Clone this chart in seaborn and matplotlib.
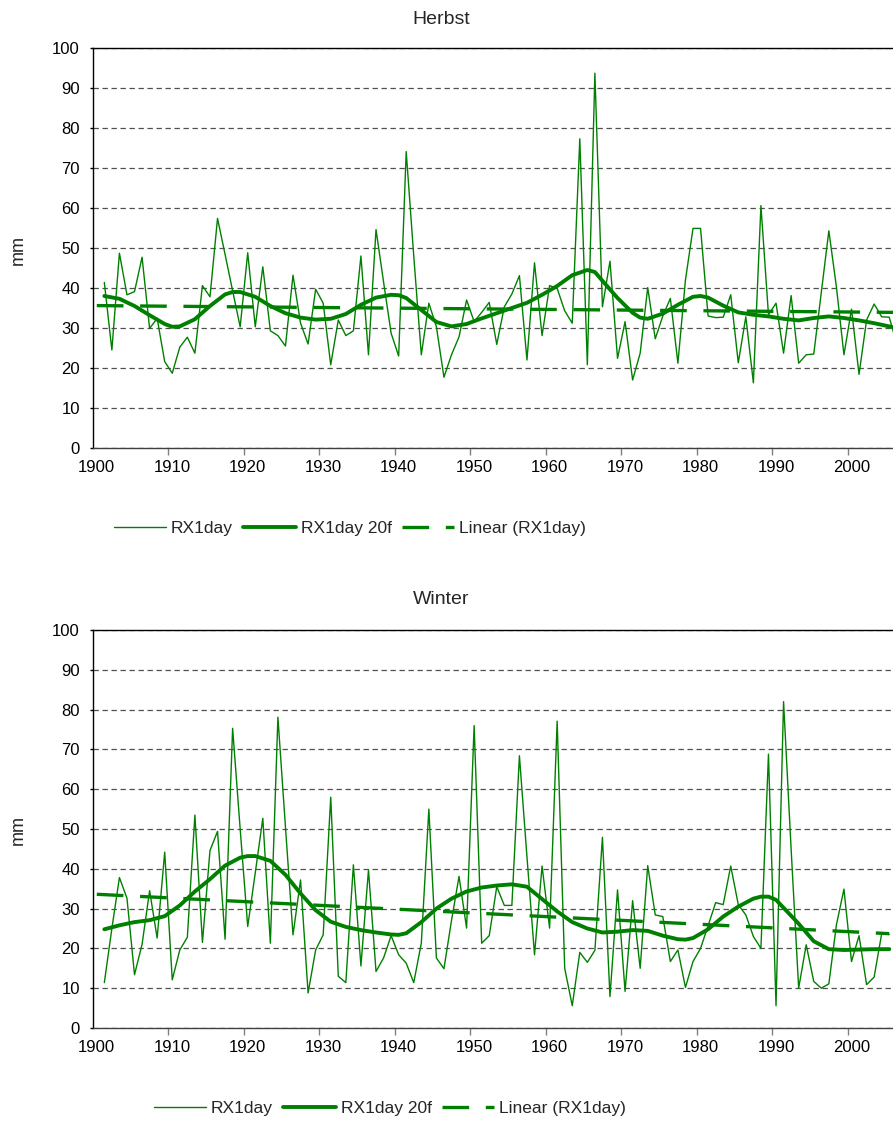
import numpy as np
import pandas as pd
import matplotlib.pyplot as plt
import seaborn as sns

# ── Data ───────────────────────────────────────────────────────────────────────

years_herbst = list(range(1901, 2007))
rx_herbst = [
    41.4, 24.5, 48.7, 38.3, 39.1, 47.7, 29.9, 32.4, 21.6, 18.7,
    25.2, 27.7, 23.7, 40.6, 37.8, 57.4, 48.4, 39.3, 30.3, 48.8,
    30.3, 45.3, 29.3, 28.1, 25.5, 43.2, 31.2, 26.0, 39.7, 36.2,
    20.8, 32.0, 28.1, 29.3, 48.0, 23.3, 54.6, 41.5, 28.7, 23.0,
    74.1, 48.0, 23.3, 36.2, 30.3, 17.7, 23.3, 27.8, 37.0, 31.6,
    33.9, 36.4, 25.9, 35.3, 38.5, 43.1, 22.0, 46.3, 28.1, 40.6,
    39.9, 34.3, 31.2, 77.3, 20.8, 93.7, 35.3, 46.7, 22.4, 31.6,
    17.0, 23.7, 40.1, 27.3, 33.0, 37.4, 21.2, 42.0, 54.9, 54.9,
    33.0, 32.6, 32.7, 38.3, 21.3, 32.8, 16.3, 60.6, 33.3, 36.2,
    23.7, 38.1, 21.2, 23.3, 23.5, 38.9, 54.3, 40.3, 23.3, 34.7,
    18.4, 32.0, 36.0, 32.8, 32.7, 26.0,
]
smooth_years_herbst = [
    1901, 1903, 1905, 1907, 1909, 1910, 1911, 1913, 1915, 1917, 1918, 1919,
    1921, 1923, 1925, 1927, 1929, 1931, 1933, 1935, 1937, 1939, 1940, 1941,
    1943, 1945, 1947, 1949, 1951, 1953, 1955, 1957, 1959, 1961, 1963, 1965,
    1966, 1967, 1969, 1971, 1972, 1973, 1975, 1977, 1979, 1980, 1981, 1983,
    1985, 1987, 1989, 1991, 1993, 1995, 1997, 1999, 2001, 2003, 2005, 2006,
]
smooth_herbst = [
    38.0, 37.3, 35.5, 33.2, 31.0, 30.3, 30.4, 32.2, 35.5, 38.4, 39.0, 39.0,
    37.8, 35.5, 33.7, 32.6, 32.1, 32.3, 33.5, 35.8, 37.6, 38.3, 38.2, 37.5,
    34.5, 31.5, 30.4, 31.0, 32.4, 33.7, 35.0, 36.3, 38.3, 40.5, 43.2, 44.5,
    44.0, 41.8, 37.5, 33.8, 32.6, 32.3, 33.6, 35.8, 37.8, 38.0, 37.6, 35.6,
    33.9, 33.3, 32.9, 32.3, 31.9, 32.5, 32.9, 32.5, 31.9, 31.2, 30.4, 30.0,
]
trend_years_herbst = [1900, 2006]
trend_herbst = [35.6, 33.9]

years_winter = list(range(1901, 2006))
rx_winter = [
    11.4, 25.0, 37.8, 32.6, 13.4, 21.0, 34.5, 22.6, 44.2, 12.1,
    19.6, 22.8, 53.5, 21.5, 44.6, 49.4, 22.3, 75.3, 50.0, 25.5,
    39.0, 52.7, 21.3, 78.1, 50.5, 23.4, 37.2, 8.8, 19.6, 23.4,
    58.0, 13.0, 11.4, 41.0, 15.6, 39.7, 14.2, 17.6, 23.2, 18.4,
    16.3, 11.4, 21.3, 55.0, 17.6, 14.9, 27.0, 38.1, 25.1, 76.0,
    21.3, 23.2, 35.5, 30.8, 30.8, 68.4, 43.0, 18.4, 40.7, 25.1,
    77.1, 15.0, 5.6, 19.0, 16.5, 19.5, 47.9, 7.9, 34.7, 9.2,
    32.0, 15.0, 40.8, 28.4, 28.0, 16.7, 19.6, 10.2, 16.7, 20.0,
    25.7, 31.5, 31.0, 40.7, 31.0, 28.4, 23.0, 20.0, 68.8, 5.6,
    82.0, 45.0, 10.0, 20.9, 11.7, 10.0, 11.1, 25.9, 34.9, 16.7,
    23.2, 10.9, 12.8, 23.7, 23.5,
]
smooth_years_winter = [
    1901, 1903, 1905, 1907, 1909, 1911, 1913, 1915, 1917, 1919, 1920, 1921,
    1923, 1925, 1927, 1929, 1931, 1933, 1935, 1937, 1939, 1940, 1941, 1943,
    1945, 1947, 1949, 1951, 1953, 1955, 1957, 1959, 1961, 1963, 1965, 1967,
    1969, 1971, 1973, 1975, 1977, 1978, 1979, 1981, 1983, 1985, 1987, 1988,
    1989, 1990, 1991, 1993, 1995, 1997, 1999, 2001, 2003, 2005,
]
smooth_winter = [
    24.8, 25.8, 26.6, 27.1, 28.1, 30.8, 34.3, 37.4, 40.8, 42.8, 43.2, 43.2,
    42.0, 38.5, 33.8, 29.6, 26.7, 25.4, 24.6, 24.0, 23.5, 23.4, 23.8, 26.6,
    30.0, 32.5, 34.3, 35.3, 35.8, 36.1, 35.5, 32.4, 29.3, 26.6, 25.0, 24.0,
    24.2, 24.6, 24.4, 23.2, 22.3, 22.2, 22.6, 24.8, 28.0, 30.5, 32.5, 33.0,
    33.0, 32.2, 30.2, 26.2, 21.8, 19.8, 19.6, 19.7, 19.8, 19.8,
]
trend_years_winter = [1900, 2005]
trend_winter = [33.6, 23.7]

GREEN = "#008000"

# ── Style ──────────────────────────────────────────────────────────────────────

sns.set_style("white")
plt.rcParams["font.family"] = ["Liberation Sans", "DejaVu Sans"]
plt.rcParams["font.size"] = 12
plt.rcParams["lines.solid_joinstyle"] = "round"


def draw_panel(ax, years, rx, s_years, s_vals, t_years, t_vals):
    sns.lineplot(x=years, y=rx, ax=ax, color=GREEN, linewidth=1.0,
                 label="RX1day")
    sns.lineplot(x=s_years, y=s_vals, ax=ax, color=GREEN, linewidth=2.8,
                 label="RX1day 20f")
    sns.lineplot(x=t_years, y=t_vals, ax=ax, color=GREEN, linewidth=2.4,
                 linestyle=(0, (8, 5)), label="Linear (RX1day)")
    ax.get_legend().remove()

    ax.set_xlim(1899.5, 2005.5)
    ax.set_ylim(0, 100)
    ax.set_xticks(range(1900, 2001, 10))
    ax.set_xticks(np.arange(1909.5, 2005, 10), minor=True)
    ax.set_yticks(range(0, 101, 10))
    ax.tick_params(axis="x", which="major", length=0, pad=9, labelsize=12,
                   colors="black")
    ax.tick_params(axis="x", which="minor", length=5, width=1,
                   color="#808080", direction="out", bottom=True)
    ax.tick_params(axis="y", length=2.5, width=1, direction="out", pad=7,
                   labelsize=12, colors="black", left=True)
    ax.set_xlabel("")
    ax.set_ylabel("")

    ax.set_axisbelow(True)
    ax.yaxis.grid(True, linestyle=(0, (4.3, 2.9)), color="#505050",
                  linewidth=0.9)
    ax.xaxis.grid(False)

    for side in ["left", "top", "bottom"]:
        ax.spines[side].set_visible(True)
        ax.spines[side].set_color("black")
        ax.spines[side].set_linewidth(1.0)
    ax.spines["bottom"].set_color("#404040")
    ax.spines["right"].set_visible(False)


fig = plt.figure(figsize=(8.93, 11.22), dpi=100)
W, H = 893, 1122

ax1 = fig.add_axes([93 / W, 1 - 448 / H, 800 / W, 400 / H])
ax2 = fig.add_axes([93 / W, 1 - 1028 / H, 800 / W, 398 / H])

draw_panel(ax1, years_herbst, rx_herbst, smooth_years_herbst, smooth_herbst,
           trend_years_herbst, trend_herbst)
draw_panel(ax2, years_winter, rx_winter, smooth_years_winter, smooth_winter,
           trend_years_winter, trend_winter)

fig.text(441 / W, 1 - 20 / H, "Herbst", ha="center", va="center", fontsize=14)
fig.text(441 / W, 1 - 600 / H, "Winter", ha="center", va="center", fontsize=14)
fig.text(18 / W, 1 - 250 / H, "mm", ha="center", va="center", rotation=90,
         fontsize=13)
fig.text(18 / W, 1 - 830 / H, "mm", ha="center", va="center", rotation=90,
         fontsize=13)

legend_kw = dict(loc="center", ncol=3, frameon=False, handlelength=3,
                 handletextpad=0.3, columnspacing=0.6, fontsize=12.5,
                 bbox_transform=fig.transFigure)
h, l = ax1.get_legend_handles_labels()
ax1.legend(h, l, bbox_to_anchor=(350 / W, 1 - 528 / H), **legend_kw)
h, l = ax2.get_legend_handles_labels()
ax2.legend(h, l, bbox_to_anchor=(390 / W, 1 - 1108 / H), **legend_kw)

fig.savefig("out.png", dpi=100)
